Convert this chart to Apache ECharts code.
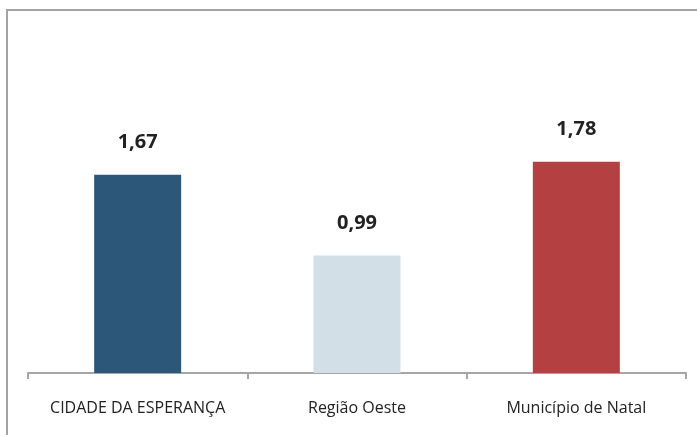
<!DOCTYPE html>
<html>
<head>
<meta charset="utf-8">
<script src="https://cdn.jsdelivr.net/npm/echarts@6/dist/echarts.min.js"></script>
<style>
html,body{margin:0;padding:0;background:#fff;}
#chart{width:697px;height:435px;}
</style>
</head>
<body>
<div id="chart"></div>
<script>
// dados
const categories=['CIDADE DA ESPERANÇA','Região Oeste','Município de Natal'];
const values=[1.67,0.99,1.78];
const barColors=['#2c5779','#d3dfe7','#b54041'];

const chart=echarts.init(document.getElementById('chart'));
chart.setOption({
    backgroundColor:'#fff',
    animation:false,
    grid:{left:28,right:11,top:11,bottom:62},
    graphic:[{
        type:'polyline',
        shape:{points:[[7,435],[7,10],[697,10]]},
        style:{stroke:'#a3a3a3',lineWidth:2,fill:null}
    }],
    xAxis:{
        type:'category',data:categories,
        axisLine:{lineStyle:{color:'#a6a6a6',width:2}},
        axisTick:{show:true,interval:0,length:6,lineStyle:{color:'#a6a6a6',width:2}},
        axisLabel:{interval:0,hideOverlap:false,color:'#222',fontSize:16,fontFamily:'Open Sans',margin:27}
    },
    yAxis:{type:'value',min:0,max:3.05,show:false,splitLine:{show:false}},
    series:[{
        type:'bar',
        barWidth:87,
        data:values.map((v,i)=>({value:v,itemStyle:{color:barColors[i]}})),
        label:{
            show:true,position:'top',distance:22,
            formatter:p=>p.value.toFixed(2).replace('.',','),
            color:'#222',fontSize:20,fontWeight:'bold',fontFamily:'Open Sans'
        }
    }]
});
</script>
</body>
</html>
